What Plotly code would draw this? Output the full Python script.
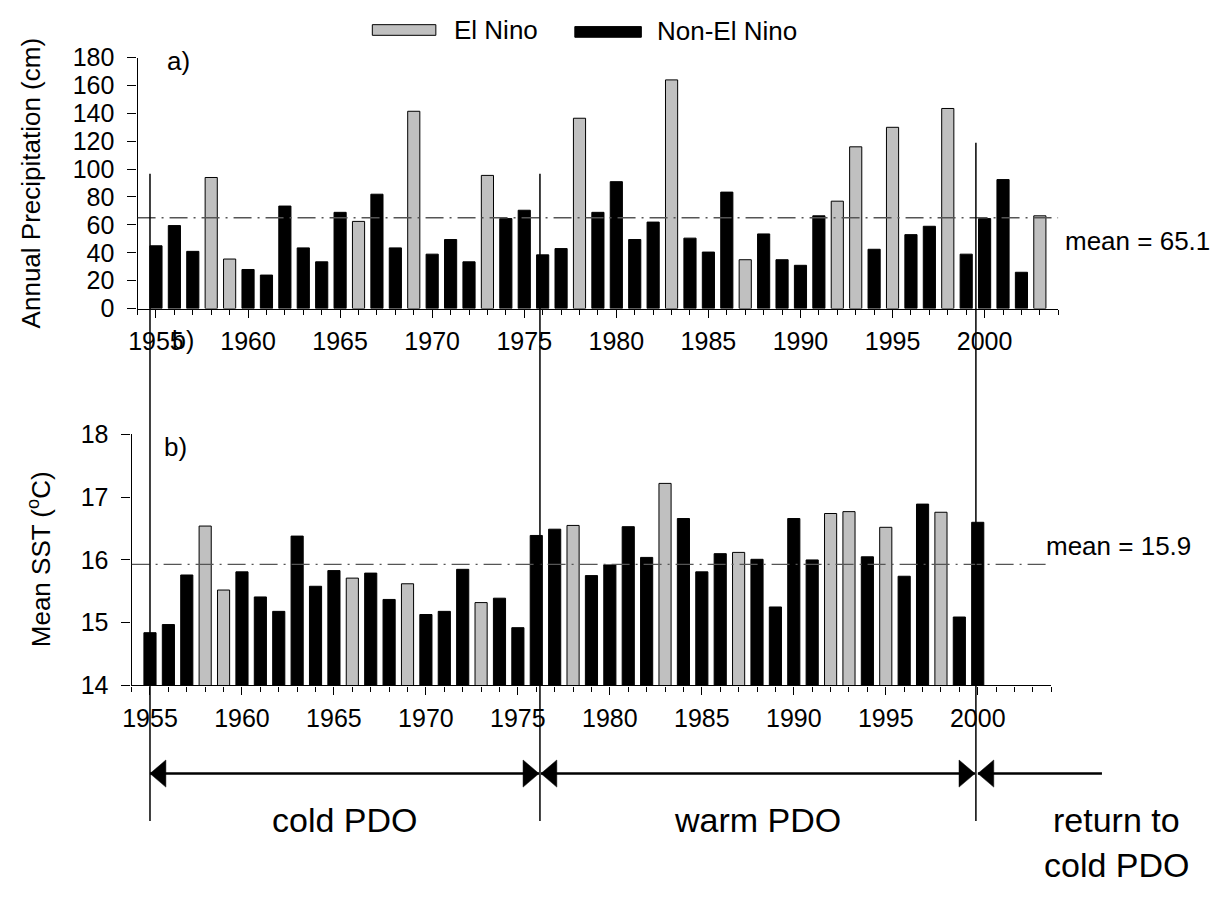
import plotly.graph_objects as go

# ---------------- data ----------------
YEARS_PRECIP = list(range(1955, 2004))
PRECIP = [45, 59.5, 41, 94, 35.5, 28, 24, 73.5, 43.5, 33.5,
          69, 62.5, 82, 43.5, 141.5, 39, 49.5, 33.5, 95.5, 64.5,
          70.5, 38.5, 43, 136.5, 69, 91, 49.5, 62, 164, 50.5,
          40.5, 83.5, 35, 53.5, 35, 31, 66.5, 77, 116, 42.5,
          130, 53, 59, 143.5, 39, 64.5, 92.5, 26, 66.5]

YEARS_SST = list(range(1955, 2001))
SST = [14.84, 14.97, 15.76, 16.54, 15.52, 15.81, 15.41, 15.18, 16.38, 15.58,
       15.83, 15.71, 15.79, 15.37, 15.62, 15.13, 15.18, 15.85, 15.32, 15.39,
       14.92, 16.39, 16.49, 16.55, 15.75, 15.92, 16.53, 16.04, 17.22, 16.66,
       15.81, 16.10, 16.12, 16.01, 15.25, 16.66, 16.00, 16.74, 16.77, 16.05,
       16.52, 15.74, 16.89, 16.76, 15.09, 16.60]

EL_NINO_YEARS = [1958, 1959, 1966, 1969, 1973, 1978, 1983, 1987, 1992, 1993,
                 1995, 1998, 2003]

MEAN_PRECIP = 65.1
MEAN_SST = 15.93
MEAN_PRECIP_LABEL = "mean = 65.1"
MEAN_SST_LABEL = "mean = 15.9"

PDO_BOUNDARIES = [1955, 1976.2, 1999.9]
PDO_LABELS = ["cold PDO", "warm PDO", "return to", "cold PDO"]
XTICKS = list(range(1955, 2001, 5))

# ---------------- layout helpers ----------------
W, H = 1230, 898
FONT = "Liberation Sans, Arial, sans-serif"
GRAY = "#c0c0c0"


def px(x):
    return x / W


def py(y):
    return 1 - y / H


# bottom axis pixel mapping (1954 -> 123.5, 2004 -> 1050)
def yr2px_bottom(yr):
    return 123.5 + (yr - 1954) * (1050 - 123.5) / 50.0


fig = go.Figure()


def split(years, vals):
    en = [(y, v) for y, v in zip(years, vals) if y in EL_NINO_YEARS]
    ne = [(y, v) for y, v in zip(years, vals) if y not in EL_NINO_YEARS]
    return en, ne


BAR_W = 0.66
for years, vals, xa, ya in [(YEARS_PRECIP, PRECIP, "x", "y"),
                            (YEARS_SST, SST, "x2", "y2")]:
    en, ne = split(years, vals)
    fig.add_trace(go.Bar(x=[a for a, b in ne], y=[b for a, b in ne],
                         marker=dict(color="black", line=dict(color="black", width=1)),
                         width=BAR_W, xaxis=xa, yaxis=ya, name="Non-El Nino",
                         showlegend=False))
    fig.add_trace(go.Bar(x=[a for a, b in en], y=[b for a, b in en],
                         marker=dict(color=GRAY, line=dict(color="black", width=1)),
                         width=BAR_W, xaxis=xa, yaxis=ya, name="El Nino",
                         showlegend=False))

tickfont = dict(family=FONT, size=25, color="black")
xcommon = dict(range=[1954, 2004], tickvals=XTICKS, ticks="outside", ticklen=8,
               tickwidth=1.3, tickcolor="black", showline=True, linecolor="black",
               linewidth=1.3, showgrid=False, zeroline=False, tickfont=tickfont,
               ticklabelstandoff=2,
               minor=dict(ticks="outside", dtick=1, tick0=1954, ticklen=5,
                          tickwidth=1.3, tickcolor="black", showgrid=False),
               fixedrange=True)
ycommon = dict(ticks="outside", ticklen=9, tickwidth=1.3, tickcolor="black",
               showline=True, linecolor="black", linewidth=1.3, showgrid=False,
               zeroline=False, tickfont=tickfont, ticklabelstandoff=8,
               fixedrange=True)

fig.update_layout(
    width=W, height=H,
    margin=dict(l=0, r=0, t=0, b=0),
    paper_bgcolor="white", plot_bgcolor="white",
    barmode="overlay", showlegend=False,
    xaxis=dict(domain=[px(129.5), px(1057)], anchor="y", **xcommon),
    yaxis=dict(domain=[py(304), py(45)], anchor="x", range=[0, 180], dtick=20,
               **ycommon),
    xaxis2=dict(domain=[px(123.5), px(1050)], anchor="y2", **xcommon),
    yaxis2=dict(domain=[py(693), py(434)], anchor="x2", range=[14, 18], dtick=1,
                **ycommon),
)

shapes = []
dash = "18px,6px,2px,6px"
shapes.append(dict(type="line", xref="x", yref="y", x0=1954, x1=2004,
                   y0=MEAN_PRECIP, y1=MEAN_PRECIP,
                   line=dict(color="#555555", width=1.3, dash=dash)))
shapes.append(dict(type="line", xref="x2", yref="y2", x0=1954, x1=2004,
                   y0=MEAN_SST, y1=MEAN_SST,
                   line=dict(color="#555555", width=1.3, dash=dash)))

# vertical PDO boundary lines
tops = [165, 165, 133]
for b, top in zip(PDO_BOUNDARIES, tops):
    xp = yr2px_bottom(b)
    shapes.append(dict(type="line", xref="paper", yref="paper",
                       x0=px(xp), x1=px(xp), y0=py(top), y1=py(833),
                       line=dict(color="black", width=1.5)))

# arrows
ay = 784
bx = [yr2px_bottom(b) for b in PDO_BOUNDARIES]
segments = [(bx[0], bx[1] - 1, True, True),
            (bx[1] + 1, bx[2] - 1, True, True),
            (bx[2] + 2, 1101, True, False)]
HL, HH = 16, 14
for x0, x1, lh, rh in segments:
    shapes.append(dict(type="line", xref="paper", yref="paper",
                       x0=px(x0), x1=px(x1), y0=py(ay), y1=py(ay),
                       line=dict(color="black", width=2.5)))
    if lh:
        path = "M {},{} L {},{} L {},{} Z".format(
            px(x0), py(ay), px(x0 + HL), py(ay - HH), px(x0 + HL), py(ay + HH))
        shapes.append(dict(type="path", xref="paper", yref="paper", path=path,
                           fillcolor="black", line=dict(color="black", width=0.5)))
    if rh:
        path = "M {},{} L {},{} L {},{} Z".format(
            px(x1), py(ay), px(x1 - HL), py(ay - HH), px(x1 - HL), py(ay + HH))
        shapes.append(dict(type="path", xref="paper", yref="paper", path=path,
                           fillcolor="black", line=dict(color="black", width=0.5)))

# legend boxes
shapes.append(dict(type="rect", xref="paper", yref="paper",
                   x0=px(366), x1=px(430), y0=py(22), y1=py(11),
                   fillcolor=GRAY, line=dict(color="black", width=1)))
shapes.append(dict(type="rect", xref="paper", yref="paper",
                   x0=px(570), x1=px(637), y0=py(24), y1=py(13),
                   fillcolor="black", line=dict(color="black", width=1)))

fig.update_layout(shapes=shapes)


def ann(text, x, y, size, xanchor="left", yanchor="middle", angle=0):
    fig.add_annotation(text=text, x=px(x), y=py(y), xref="paper", yref="paper",
                       showarrow=False, xanchor=xanchor, yanchor=yanchor,
                       textangle=angle,
                       font=dict(family=FONT, size=size, color="black"))


ann("El Nino", 446, 17, 26)
ann("Non-El Nino", 651, 18, 26)
ann("a)", 157, 48, 26)
ann("b)", 154, 447, 26)
ann("b)", 162, 337, 25)
ann(MEAN_PRECIP_LABEL, 1062, 234, 26)
ann(MEAN_SST_LABEL, 1043, 549, 26)
ann("Annual Precipitation (cm)", 22, 175, 26, xanchor="center", angle=-90)
ann("Mean SST (<sup>o</sup>C)", 31, 563, 26, xanchor="center", angle=-90)
ann(PDO_LABELS[0], 338, 832, 34, xanchor="center")
ann(PDO_LABELS[1], 754, 832, 34, xanchor="center")
ann(PDO_LABELS[2], 1116, 832, 34, xanchor="center")
ann(PDO_LABELS[3], 1116, 878, 34, xanchor="center")

fig.write_html("out.html",
               config={"displayModeBar": False},
               post_script="document.body.style.margin='0';")
